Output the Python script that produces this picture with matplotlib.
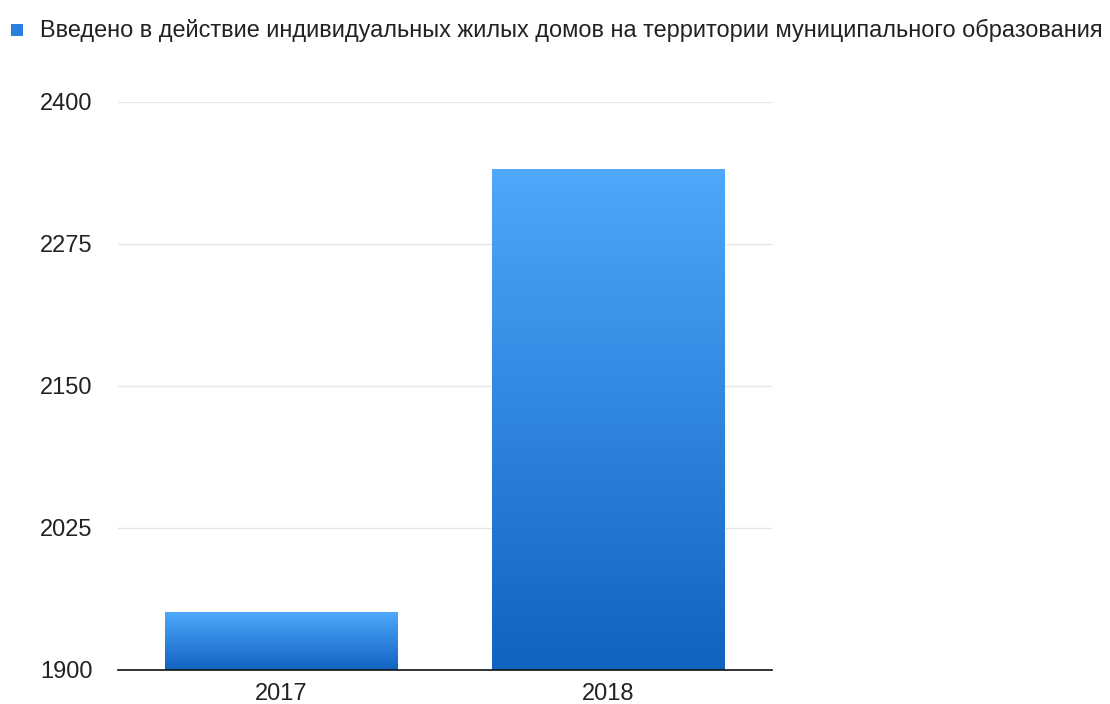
import numpy as np
import matplotlib
matplotlib.use("Agg")
import matplotlib.pyplot as plt
from matplotlib.colors import LinearSegmentedColormap

years = ["2017", "2018"]
values = [1951, 2341]
series_name = "Введено в действие индивидуальных жилых домов на территории муниципального образования"
yticks = [1900, 2025, 2150, 2275, 2400]

plt.rcParams['font.family'] = ['Liberation Sans', 'DejaVu Sans']

fig = plt.figure(figsize=(11.1, 7.04), dpi=100)
ax = fig.add_axes([118 / 1110, 34 / 704, 654 / 1110, 568 / 704])

x = np.arange(len(years))
bars = ax.bar(x, values, width=0.71, color="#2f87e6", zorder=2)

# vertical gradient: darker at bottom, lighter at top
cmap = LinearSegmentedColormap.from_list("bar", ["#1262c0", "#4ea8fc"])
grad = np.linspace(0, 1, 256).reshape(-1, 1)
for b in bars:
    b.set_facecolor("none")
    x0, y0 = b.get_x(), b.get_y()
    w, h = b.get_width(), b.get_height()
    im = ax.imshow(grad, cmap=cmap, origin="lower", aspect="auto",
                   extent=[x0, x0 + w, 1900, y0 + h], zorder=2)
    im.set_clip_path(b)

ax.set_xlim(-0.5, 1.5)
ax.set_ylim(1900, 2400)
ax.set_xticks(x)
ax.set_xticklabels(years, fontsize=17, color="#222222")
ax.set_yticks(yticks)
ax.set_yticklabels([str(t) for t in yticks], fontsize=17, color="#222222")
ax.tick_params(axis="both", length=0, pad=9)
ax.tick_params(axis="y", pad=18.5)
ax.grid(axis="y", color="#e6e6e6", linewidth=1, zorder=0)
for s in ["top", "right", "left"]:
    ax.spines[s].set_visible(False)
ax.spines["bottom"].set_color("#111111")
ax.spines["bottom"].set_linewidth(1.2)
ax.spines["bottom"].set_zorder(3)

# legend
fig.patches.append(plt.Rectangle((11 / 1110, (704 - 36) / 704), 12 / 1110, 12 / 704,
                                 transform=fig.transFigure, facecolor="#2a7fe0",
                                 edgecolor="none"))
fig.text(40 / 1110, (704 - 30) / 704, series_name, fontsize=16.9, color="#222222",
         va="center", ha="left")

fig.savefig("out.png", dpi=100)
